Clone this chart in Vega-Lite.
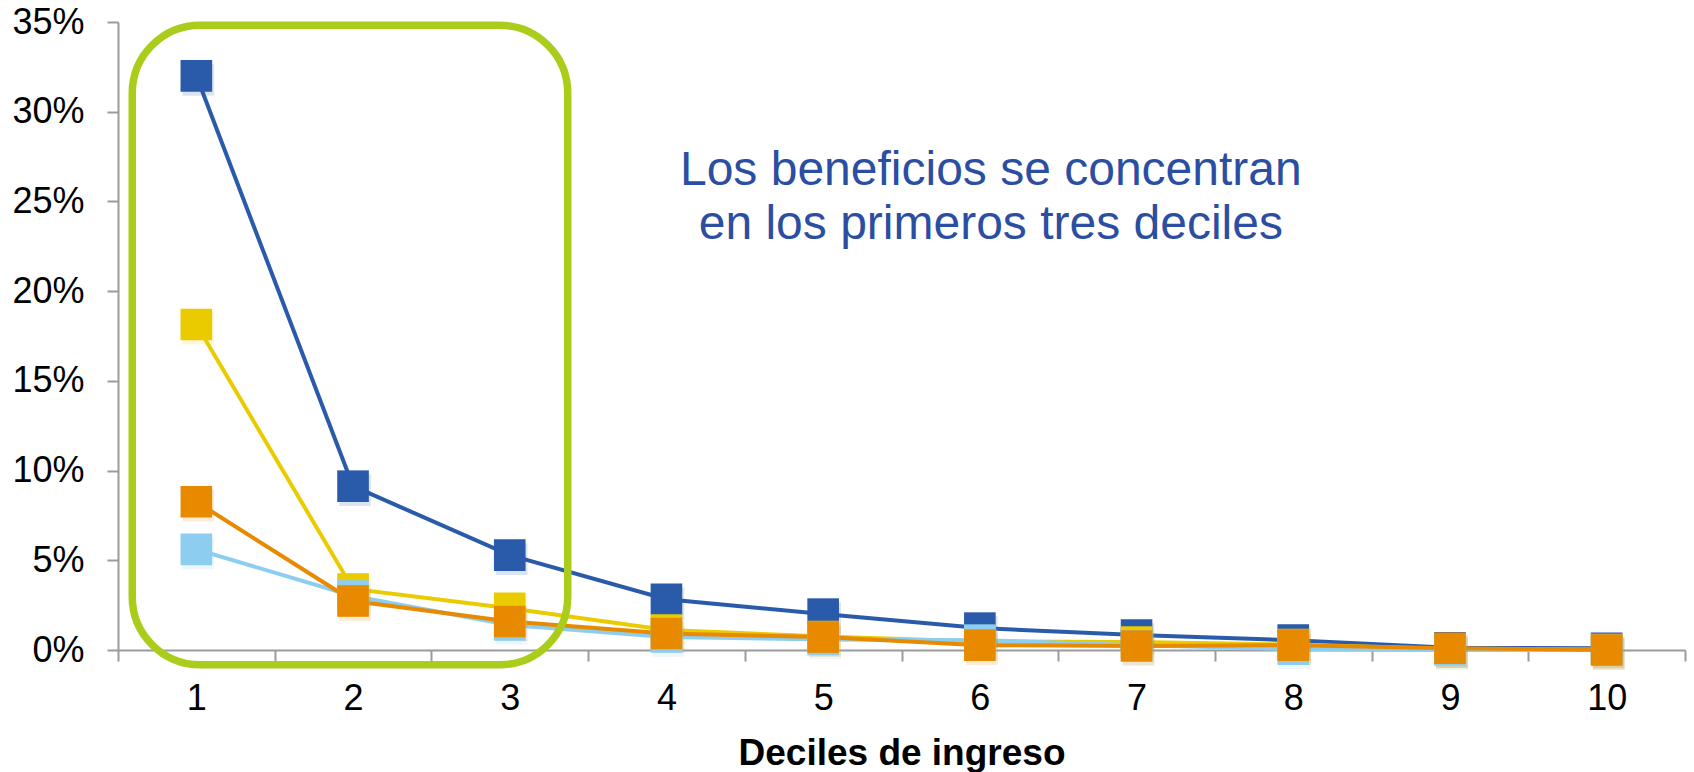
{
  "$schema": "https://vega.github.io/schema/vega-lite/v6.json",
  "width": 1567,
  "height": 628,
  "autosize": {"type": "none"},
  "padding": {"left": 118, "top": 22, "right": 9, "bottom": 122},
  "background": "white",
  "config": {
    "view": {"stroke": null},
    "font": "Liberation Sans"
  },
  "data": {
    "values": [
      {"serie": "A", "decil": 1, "valor": 0.320},
      {"serie": "A", "decil": 2, "valor": 0.0913},
      {"serie": "A", "decil": 3, "valor": 0.0529},
      {"serie": "A", "decil": 4, "valor": 0.0283},
      {"serie": "A", "decil": 5, "valor": 0.0200},
      {"serie": "A", "decil": 6, "valor": 0.0122},
      {"serie": "A", "decil": 7, "valor": 0.0083},
      {"serie": "A", "decil": 8, "valor": 0.0055},
      {"serie": "A", "decil": 9, "valor": 0.0012},
      {"serie": "A", "decil": 10, "valor": 0.0010},
      {"serie": "B", "decil": 1, "valor": 0.1814},
      {"serie": "B", "decil": 2, "valor": 0.0340},
      {"serie": "B", "decil": 3, "valor": 0.0233},
      {"serie": "B", "decil": 4, "valor": 0.0111},
      {"serie": "B", "decil": 5, "valor": 0.0075},
      {"serie": "B", "decil": 6, "valor": 0.0048},
      {"serie": "B", "decil": 7, "valor": 0.0044},
      {"serie": "B", "decil": 8, "valor": 0.0030},
      {"serie": "B", "decil": 9, "valor": 0.0005},
      {"serie": "B", "decil": 10, "valor": 0.0003},
      {"serie": "C", "decil": 1, "valor": 0.0561},
      {"serie": "C", "decil": 2, "valor": 0.0301},
      {"serie": "C", "decil": 3, "valor": 0.0139},
      {"serie": "C", "decil": 4, "valor": 0.0073},
      {"serie": "C", "decil": 5, "valor": 0.0059},
      {"serie": "C", "decil": 6, "valor": 0.0055},
      {"serie": "C", "decil": 7, "valor": 0.0027},
      {"serie": "C", "decil": 8, "valor": 0.0005},
      {"serie": "C", "decil": 9, "valor": 0.0000},
      {"serie": "C", "decil": 10, "valor": 0.0000},
      {"serie": "D", "decil": 1, "valor": 0.0826},
      {"serie": "D", "decil": 2, "valor": 0.0273},
      {"serie": "D", "decil": 3, "valor": 0.0159},
      {"serie": "D", "decil": 4, "valor": 0.0092},
      {"serie": "D", "decil": 5, "valor": 0.0072},
      {"serie": "D", "decil": 6, "valor": 0.0027},
      {"serie": "D", "decil": 7, "valor": 0.0022},
      {"serie": "D", "decil": 8, "valor": 0.0027},
      {"serie": "D", "decil": 9, "valor": 0.0010},
      {"serie": "D", "decil": 10, "valor": 0.0000}
    ]
  },
  "layer": [
    {
      "encoding": {
        "x": {
          "field": "decil",
          "type": "ordinal",
          "scale": {"type": "band", "paddingInner": 0, "paddingOuter": 0},
          "axis": {
            "title": "Deciles de ingreso",
            "titleFont": "Liberation Sans",
            "titleFontSize": 37,
            "titleFontWeight": "bold",
            "titleColor": "#000000",
            "titlePadding": 19,
            "labelAngle": 0,
            "labelFont": "Liberation Sans",
            "labelFontSize": 36,
            "labelColor": "#000000",
            "labelPadding": 20,
            "tickBand": "extent",
            "tickSize": 11,
            "tickWidth": 2,
            "tickColor": "#9B9B9B",
            "domainColor": "#9B9B9B",
            "domainWidth": 2,
            "grid": false
          }
        },
        "y": {
          "field": "valor",
          "type": "quantitative",
          "scale": {"domain": [0, 0.35], "nice": false, "zero": true},
          "axis": {
            "title": null,
            "format": ".0%",
            "values": [0, 0.05, 0.1, 0.15, 0.2, 0.25, 0.3, 0.35],
            "labelFont": "Liberation Sans",
            "labelFontSize": 36,
            "labelColor": "#000000",
            "labelPadding": 23,
            "tickSize": 11,
            "tickWidth": 2,
            "tickColor": "#9B9B9B",
            "domainColor": "#9B9B9B",
            "domainWidth": 2,
            "grid": false
          }
        },
        "color": {
          "field": "serie",
          "type": "nominal",
          "scale": {"domain": ["A", "B", "C", "D"], "range": ["#2A5AAA", "#EACB00", "#8DCEF0", "#E88A00"]},
          "legend": null
        }
      },
      "layer": [
        {
          "mark": {"type": "line", "strokeWidth": 4},
          "encoding": {"order": {"field": "decil", "type": "quantitative"}}
        },
        {
          "mark": {"type": "point", "shape": "square", "filled": true, "size": 1000, "opacity": 0.16, "xOffset": 2, "yOffset": 4, "color": "#000000"}
        },
        {
          "mark": {"type": "point", "shape": "square", "filled": true, "size": 1000, "opacity": 1, "strokeWidth": 0}
        }
      ]
    },
    {
      "data": {"values": [{"nota": "recuadro"}]},
      "layer": [
        {
          "mark": {"type": "rect", "fill": null, "fillOpacity": 0, "stroke": "#AACD1C", "strokeWidth": 7.5, "cornerRadius": 68},
          "encoding": {
            "x": {"datum": 0.591, "type": "quantitative", "scale": {"domain": [0.5, 10.5], "nice": false, "zero": false}, "axis": null},
            "x2": {"datum": 3.37},
            "y": {"datum": 0.3482, "type": "quantitative", "scale": {"domain": [0, 0.35], "nice": false, "zero": true}},
            "y2": {"datum": -0.0082}
          }
        },
        {
          "mark": {
            "type": "text",
            "text": ["Los beneficios se concentran", "en los primeros tres deciles"],
            "font": "Liberation Sans",
            "fontSize": 48,
            "lineHeight": 54,
            "align": "center",
            "baseline": "alphabetic",
            "color": "#2B4EA2"
          },
          "encoding": {
            "x": {"datum": 6.07, "type": "quantitative", "scale": {"domain": [0.5, 10.5], "nice": false, "zero": false}, "axis": null},
            "y": {"datum": 0.259, "type": "quantitative"}
          }
        }
      ]
    }
  ],
  "resolve": {"scale": {"x": "independent"}}
}
